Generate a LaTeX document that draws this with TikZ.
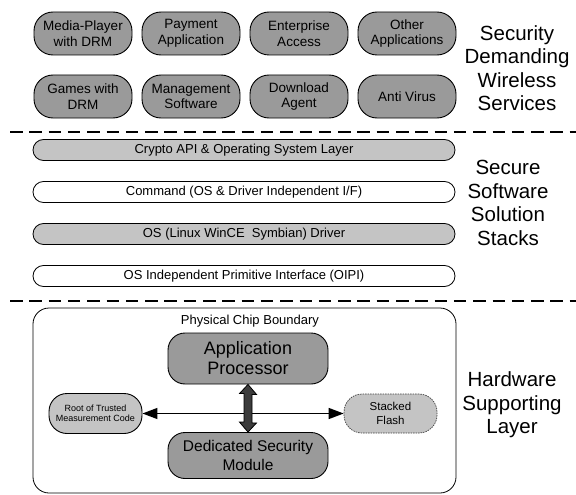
\documentclass[tikz,border=0pt]{standalone}
\usepackage{fontspec}
\setmainfont{Liberation Sans}
\usetikzlibrary{arrows.meta}

\definecolor{midgray}{HTML}{9A9A9A}
\definecolor{palegray}{HTML}{C4C4C4}
\definecolor{shaftgray}{HTML}{3C3C3C}

\begin{document}
\begin{tikzpicture}[x=1pt,y=-1pt,
    service/.style={draw, line width=0.9pt, fill=midgray, rounded corners=19pt,
      minimum width=98pt, minimum height=43pt, inner sep=1pt, align=center,
      font=\fontsize{13.5}{15.5}\selectfont},
    stack/.style={draw, line width=0.8pt, rounded corners=10.5pt,
      minimum width=422pt, minimum height=21pt, inner sep=0pt,
      font=\fontsize{13}{15}\selectfont},
    layername/.style={align=center, font=\fontsize{20.5}{23.5}\selectfont},
    separator/.style={line width=2pt, dash pattern=on 12.5pt off 6.8pt},
    core/.style={draw, line width=0.9pt, fill=midgray, rounded corners=17pt,
      minimum width=160pt, inner sep=1pt, align=center},
    side/.style={draw, line width=0.9pt, fill=palegray, rounded corners=18pt,
      minimum width=93pt, minimum height=40pt, inner sep=1pt, align=center}]

  \useasboundingbox (0,0) rectangle (576,495);

  % Service row (two rows of four)
  \foreach \name/\x/\y/\txt in {
      media/83/33.5/{Media-Player\\with DRM},
      payment/191/33.5/{Payment\\Application},
      enterprise/299/33.5/{Enterprise\\Access},
      other/407/33.5/{Other\\Applications},
      games/83/96.5/{Games with\\DRM},
      mgmt/191/96.5/{Management\\Software},
      download/299/96.5/{Download\\Agent},
      antivirus/407/96.5/{Anti Virus}} {
    \node[service] (\name) at (\x,\y) {\txt};
  }
  \node[layername] (servicesname) at (517,68) {Security\\Demanding\\Wireless\\Services};

  % Layer separators
  \draw[separator] (10,131.5) -- (576,131.5);
  \draw[separator] (10,301) -- (576,301);

  % Software stack bars
  \foreach \name/\y/\col/\txt in {
      crypto/150/palegray/{Crypto API \& Operating System Layer},
      command/192/white/{Command (OS \& Driver Independent I/F)},
      driver/234/palegray/{OS (Linux WinCE\ \ Symbian) Driver},
      oipi/276/white/{OS Independent Primitive Interface (OIPI)}} {
    \node[stack, fill=\col] (\name) at (244,\y) {\txt};
  }
  \node[layername] (stackname) at (508,203) {Secure\\Software\\Solution\\Stacks};

  % Hardware layer
  \node[draw, line width=0.8pt, rounded corners=16pt, minimum width=423pt,
    minimum height=185pt] (chip) at (244.5,400.5) {};
  \node[font=\fontsize{13}{15}\selectfont] (chiplabel) at (250,321) {Physical Chip Boundary};

  \node[core, minimum height=51pt, font=\fontsize{18}{20}\selectfont] (ap) at (248,358.5)
    {Application\\Processor};
  \node[core, minimum height=46pt, font=\fontsize{15.5}{18.5}\selectfont] (dsm) at (248,455.5)
    {Dedicated Security\\Module};

  \node[side, font=\fontsize{9}{10}\selectfont] (root) at (95.5,413.5)
    {Root of Trusted\\Measurement Code};
  \node[side, draw=black!75, line width=0.7pt, dash pattern=on 1.5pt off 1pt,
    minimum height=39pt, font=\fontsize{11.5}{14}\selectfont] (flash) at (390.5,413.5)
    {Stacked\\Flash};

  \draw[line width=1.4pt, {Triangle[length=15pt,width=11pt]}-{Triangle[length=15pt,width=11pt]}]
    (root) -- (flash);

  % Thick bus arrow between processor and security module
  \draw[line width=0.8pt, fill=shaftgray, line join=miter]
    (ap.south) -- ++(8.5,10) -- ++(-4.5,0) -- ++(0,28.5) -- ++(4.5,0)
    -- (dsm.north) -- ++(-8.5,-10) -- ++(4.5,0) -- ++(0,-28.5) -- ++(-4.5,0) -- cycle;

  \node[layername] (hardwarename) at (512,405) {Hardware\\Supporting\\Layer};
\end{tikzpicture}
\end{document}
